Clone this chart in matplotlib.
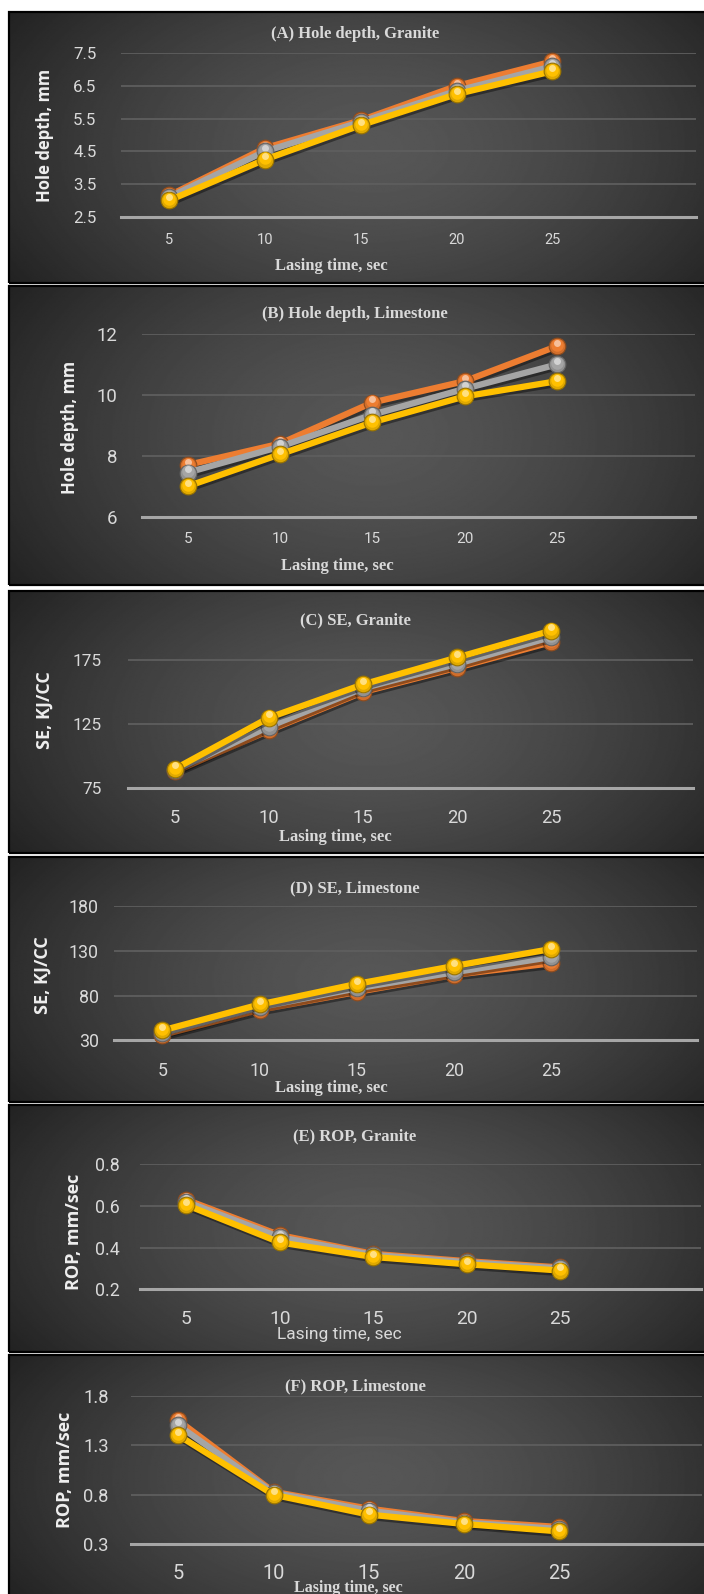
import numpy as np
import matplotlib
matplotlib.use("Agg")
import matplotlib.pyplot as plt
from matplotlib import font_manager, patheffects as pe
from matplotlib.transforms import offset_copy
from matplotlib.patches import Rectangle
from matplotlib.colors import to_rgb

# ---------------------------------------------------------------- data
lasing_time = [5, 10, 15, 20, 25]

depth_granite_1 = [3.15, 4.60, 5.45, 6.50, 7.25]
depth_granite_2 = [3.10, 4.50, 5.40, 6.35, 7.10]
depth_granite_3 = [3.00, 4.25, 5.30, 6.25, 6.95]

depth_limestone_1 = [7.70, 8.40, 9.75, 10.45, 11.60]
depth_limestone_2 = [7.45, 8.30, 9.35, 10.20, 11.00]
depth_limestone_3 = [7.00, 8.05, 9.10, 9.95, 10.45]

se_granite_1 = [88, 120, 150, 169, 189]
se_granite_2 = [89, 123, 153, 172, 193]
se_granite_3 = [90, 130, 156, 177, 198]

se_limestone_1 = [36, 64, 84, 103, 116]
se_limestone_2 = [38, 67, 88, 106, 123]
se_limestone_3 = [41, 70, 93, 113, 132]

rop_granite_1 = [0.630, 0.460, 0.370, 0.335, 0.305]
rop_granite_2 = [0.620, 0.450, 0.365, 0.330, 0.300]
rop_granite_3 = [0.605, 0.425, 0.355, 0.320, 0.290]

rop_limestone_1 = [1.55, 0.83, 0.66, 0.535, 0.475]
rop_limestone_2 = [1.50, 0.82, 0.64, 0.520, 0.455]
rop_limestone_3 = [1.40, 0.80, 0.60, 0.505, 0.430]

titles = ["(A) Hole depth, Granite", "(B) Hole depth, Limestone",
          "(C) SE, Granite", "(D) SE, Limestone",
          "(E) ROP, Granite", "(F) ROP, Limestone"]
y_labels = ["Hole depth, mm", "Hole depth, mm", "SE, KJ/CC", "SE, KJ/CC",
            "ROP, mm/sec", "ROP, mm/sec"]
x_label = "Lasing time, sec"
y_ticks = [[2.5, 3.5, 4.5, 5.5, 6.5, 7.5], [6, 8, 10, 12], [75, 125, 175],
           [30, 80, 130, 180], [0.2, 0.4, 0.6, 0.8], [0.3, 0.8, 1.3, 1.8]]
y_limits = [(2.5, 7.5), (6, 12), (75, 200), (30, 180), (0.2, 0.8), (0.3, 1.8)]

series = [
    (depth_granite_1, depth_granite_2, depth_granite_3),
    (depth_limestone_1, depth_limestone_2, depth_limestone_3),
    (se_granite_1, se_granite_2, se_granite_3),
    (se_limestone_1, se_limestone_2, se_limestone_3),
    (rop_granite_1, rop_granite_2, rop_granite_3),
    (rop_limestone_1, rop_limestone_2, rop_limestone_3),
]
colors = ["#ED7D31", "#A5A5A5", "#FFC000"]

# ---------------------------------------------------------------- fonts
installed = {f.name for f in font_manager.fontManager.ttflist}
tick_font = "Liberation Sans Narrow" if "Liberation Sans Narrow" in installed else "Roboto"
serif_font = "Liberation Serif"
label_font = "Open Sans"

# ---------------------------------------------------------------- layout (pixels)
W, H = 704, 1594
# panel frame: top, bottom
frames = [(12, 283), (286, 585), (591, 853), (857, 1102), (1105, 1352), (1355, 1600)]
# plot area: left, right, top (y max), bottom (y min)
plots = [(121.4, 696.0, 53.3, 216.7), (141.6, 695.4, 334.0, 516.7),
         (128.0, 692.6, 628.0, 788.0), (113.6, 697.4, 906.0, 1040.3),
         (139.5, 700.5, 1164.3, 1289.3), (130.7, 702.0, 1395.7, 1544.3)]
title_y = [34, 314, 620, 888, 1136, 1386]
ylabel_xy = [(45, 135), (70, 427), (45, 710), (43, 975), (74, 1232), (65, 1470)]
xlabel_xy = [(331, 266), (337, 566), (335, 837), (331, 1088), (339, 1334), (348, 1588)]
xtick_size = [10.5, 11, 13.2, 12.8, 13.8, 14.4]
xtick_pad = [11.5, 11.0, 15.0, 15.8, 14.8, 14.0]
ytick_size = [12.2, 13.4, 12.4, 12.8, 12.8, 13.2]
ylabel_size = [12, 12, 13, 13, 13, 13]
ytick_right = [96.5, 117, 102, 99, 120, 108.7]


def rect(x0, x1, top, bottom):
    return [x0 / W, 1 - bottom / H, (x1 - x0) / W, (bottom - top) / H]


def shade(c, f):
    r, g, b = to_rgb(c)
    return (r * f, g * f, b * f)


def tint(c, f):
    r, g, b = to_rgb(c)
    return (r + (1 - r) * f, g + (1 - g) * f, b + (1 - b) * f)


fig = plt.figure(figsize=(W / 100, H / 100), dpi=100, facecolor="white")

yy, xx = np.mgrid[0:1:240j, 0:1:480j]
radius = np.sqrt(((xx - 0.52) / 0.62) ** 2 + ((yy - 0.5) / 0.95) ** 2)
glow = 0.34 - 0.21 * np.clip(radius, 0, 1.25) ** 1.5

for i in range(6):
    ftop, fbot = frames[i]
    bg = fig.add_axes(rect(9, 708, ftop, fbot), zorder=0)
    bg.imshow(glow, cmap="gray", vmin=0, vmax=1, aspect="auto",
              extent=(0, 1, 0, 1), origin="lower", interpolation="bilinear")
    bg.add_patch(Rectangle((0, 0), 1, 1, transform=bg.transAxes, fill=False,
                           edgecolor="black", lw=1.6, clip_on=False))
    bg.set_axis_off()

    x0, x1, ptop, pbot = plots[i]
    ax = fig.add_axes(rect(x0, x1, ptop, pbot), zorder=2)
    ax.set_facecolor("none")
    ax.set_xlim(2.5, 32.5)
    ax.set_ylim(*y_limits[i])
    for s in ("top", "left", "right"):
        ax.spines[s].set_visible(False)
    ax.spines["bottom"].set_color("#a6a6a6")
    ax.spines["bottom"].set_linewidth(2.2)
    ax.set_yticks(y_ticks[i])
    ax.set_yticklabels(["{:g}".format(v) for v in y_ticks[i]])
    ax.set_xticks(lasing_time)
    ax.set_xticklabels([str(v) for v in lasing_time])
    ax.grid(axis="y", color="#5e5e5e", lw=1.3)
    ax.set_axisbelow(True)
    ax.tick_params(axis="x", length=0, pad=xtick_pad[i], labelsize=xtick_size[i],
                   labelcolor="#d9d9d9")
    ax.tick_params(axis="y", length=0, pad=(x0 - ytick_right[i]) / 100 * 72,
                   labelsize=ytick_size[i], labelcolor="#d9d9d9")
    for lab in ax.get_xticklabels() + ax.get_yticklabels():
        lab.set_fontfamily(tick_font)

    for k, (vals, col) in enumerate(zip(series[i], colors)):
        z = 3 + 3 * k
        ax.plot(lasing_time, vals, color=col, lw=4.5, solid_joinstyle="round",
                solid_capstyle="round", zorder=z, clip_on=False,
                path_effects=[pe.SimpleLineShadow(offset=(1, -1.8), shadow_color="black",
                                                  alpha=0.4), pe.Normal()])
        ax.plot(lasing_time, vals, "o", ms=12, mfc=shade(col, 0.88), mec=shade(col, 0.6),
                mew=0.8, zorder=z + 1, clip_on=False)
        mid = offset_copy(ax.transData, fig=fig, x=0, y=0.8, units="points")
        ax.plot(lasing_time, vals, "o", ms=9, mfc=col, mec="none",
                zorder=z + 1.5, clip_on=False, transform=mid)
        hl = offset_copy(ax.transData, fig=fig, x=0, y=2.4, units="points")
        ax.plot(lasing_time, vals, "o", ms=5, mfc=tint(col, 0.6), mec="none",
                alpha=0.85, zorder=z + 2, clip_on=False, transform=hl)

    fig.text(355 / W, 1 - title_y[i] / H, titles[i], ha="center", va="center",
             fontsize=12, fontweight="bold", family=serif_font, color="#d9d9d9")
    lx, ly = ylabel_xy[i]
    fig.text(lx / W, 1 - ly / H, y_labels[i], ha="center", va="center",
             rotation=90, fontsize=ylabel_size[i], fontweight="bold",
             family=label_font, color="#eeeeee")
    xx_, xy_ = xlabel_xy[i]
    if i == 4:
        fig.text(xx_ / W, 1 - xy_ / H, x_label, ha="center", va="center",
                 fontsize=12.5, family=tick_font, color="#d9d9d9")
    else:
        fs = 11.5 if i == 5 else 12
        fig.text(xx_ / W, 1 - xy_ / H, x_label, ha="center", va="center",
                 fontsize=fs, fontweight="bold", family=serif_font, color="#d9d9d9")

fig.savefig("out.png", dpi=100, facecolor="white")
